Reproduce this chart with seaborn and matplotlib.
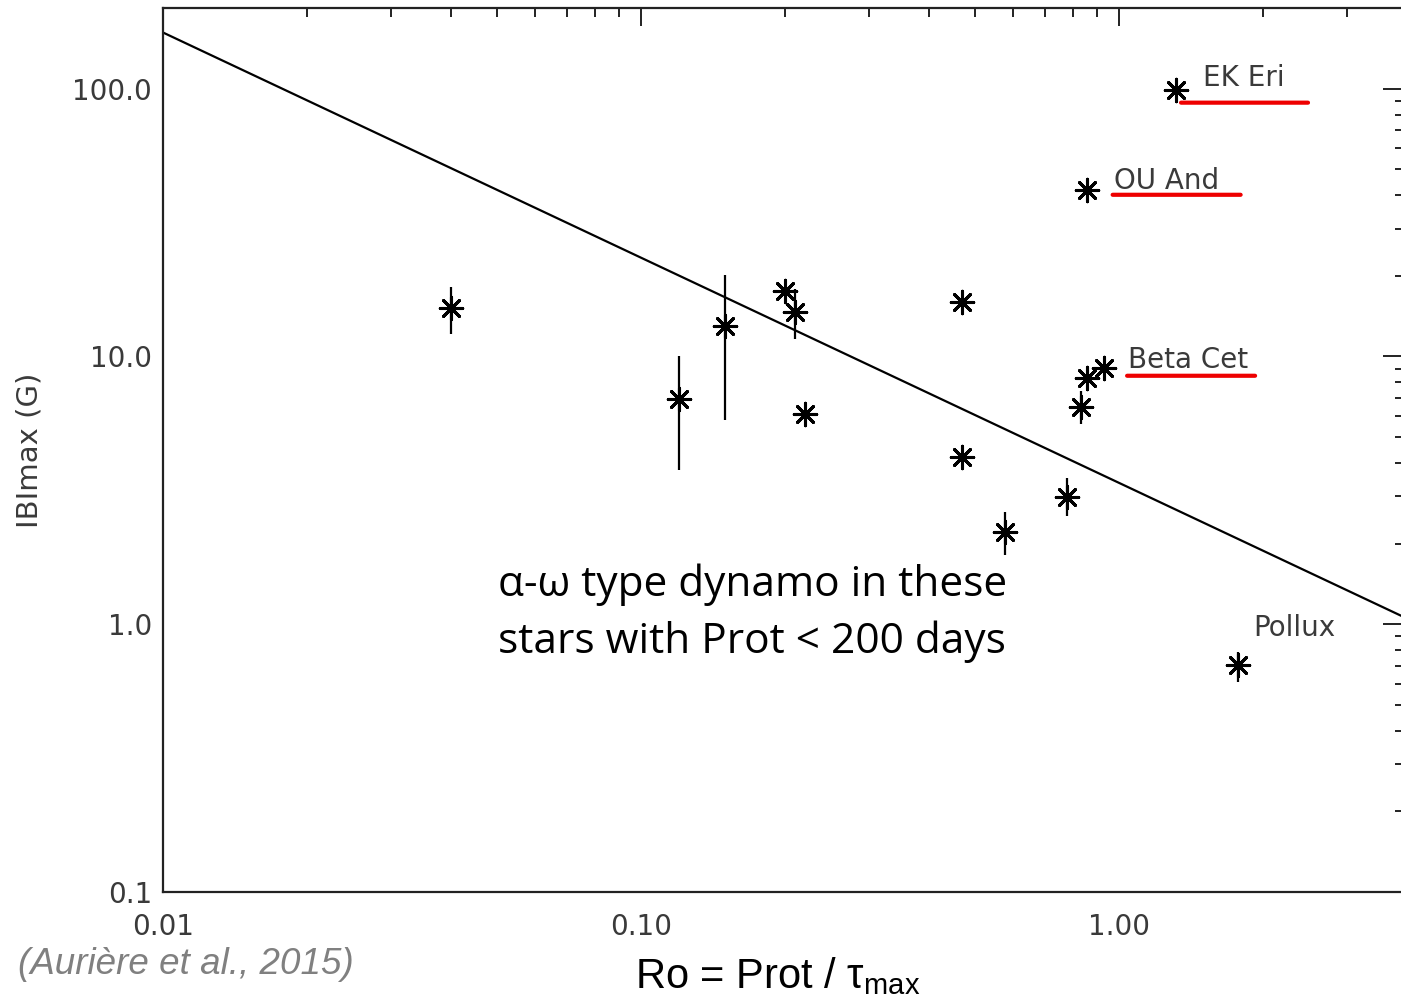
import matplotlib
matplotlib.use("Agg")
import matplotlib.pyplot as plt
import matplotlib.ticker as mticker
from matplotlib.transforms import offset_copy
import seaborn as sns
import pandas as pd

# Rossby number and max longitudinal field
ro = [0.040, 0.120, 0.150, 0.200, 0.210, 0.220, 0.468, 0.468,
      0.578, 0.779, 0.833, 0.858, 0.930, 0.855, 1.315, 1.772]
bmax = [15.1, 6.95, 13.0, 17.6, 14.7, 6.1, 15.9, 4.22,
        2.21, 2.99, 6.5, 8.3, 9.07, 41.9, 99.1, 0.705]

# vertical error bars (only the visible ones)
err_ro = [0.040, 0.120, 0.150, 0.210, 0.578, 0.779, 0.833, 1.772]
err_lo = [12.1, 3.78, 5.8, 11.6, 1.82, 2.53, 5.57, 0.61]
err_hi = [18.1, 10.0, 20.2, 17.8, 2.62, 3.53, 7.4, 0.79]

# power-law fit, drawn between the axis ends
fit_ro = [0.01, 4.0]
fit_b = [162.0, 1.05]

# labelled stars: name, ro, bmax, underlined?
star_names = ["EK Eri", "OU And", "Beta Cet", "Pollux"]
star_ro = [1.315, 0.855, 0.930, 1.772]
star_b = [99.1, 41.9, 9.07, 0.705]
star_red = [True, True, True, False]

xticks = [0.01, 0.1, 1.0]
xticklabels = ["0.01", "0.10", "1.00"]
yticks = [0.1, 1.0, 10.0, 100.0]
yticklabels = ["0.1", "1.0", "10.0", "100.0"]

df = pd.DataFrame({"ro": ro, "bmax": bmax})

sns.set_style("white")
plt.rcParams["font.family"] = ["DejaVu Sans"]
grey = "#3a3a3a"

fig = plt.figure(figsize=(14.01, 10.0), dpi=100)
ax = fig.add_axes([163 / 1401, 108 / 1000, (1407 - 163) / 1401, (892 - 8) / 1000])

ax.set_xscale("log")
ax.set_yscale("log")

ax.vlines(err_ro, err_lo, err_hi, color="black", lw=1.6)
sns.lineplot(x=fit_ro, y=fit_b, color="black", lw=1.6, ax=ax)
sns.scatterplot(data=df, x="ro", y="bmax", marker=(8, 2, 0), s=260,
                color="black", linewidth=2.2, ax=ax, zorder=3)

ax.set_xlim(0.01, 4.0)
ax.set_ylim(0.1, 200)

# star labels
for name, x, y, red in zip(star_names, star_ro, star_b, star_red):
    if name == "EK Eri":
        dx, dy, u0, u1, uy = 27, 12, 5, 132, -13
    elif name == "OU And":
        dx, dy, u0, u1, uy = 27, 9, 26, 154, -5
    elif name == "Beta Cet":
        dx, dy, u0, u1, uy = 24, 8, 23, 151, -8
    else:
        dx, dy, u0, u1, uy = 15, 37, 0, 0, 0
    ax.annotate(name, (x, y), xytext=(dx, dy), textcoords="offset pixels",
                ha="left", va="center", fontsize=20, color=grey)
    if red:
        ax.annotate("", xy=(x, y), xycoords=offset_copy(ax.transData, fig=fig, x=u0, y=uy, units="dots"),
                    xytext=(x, y), textcoords=offset_copy(ax.transData, fig=fig, x=u1, y=uy, units="dots"),
                    arrowprops=dict(arrowstyle="-", color="#ee0000", lw=3, shrinkA=0, shrinkB=0))

# ticks, IDL look
ax.xaxis.set_major_locator(mticker.FixedLocator(xticks))
ax.xaxis.set_major_formatter(mticker.FixedFormatter(xticklabels))
ax.yaxis.set_major_locator(mticker.FixedLocator(yticks))
ax.yaxis.set_major_formatter(mticker.FixedFormatter(yticklabels))
ax.xaxis.set_minor_locator(mticker.LogLocator(base=10, subs=range(2, 10), numticks=20))
ax.yaxis.set_minor_locator(mticker.LogLocator(base=10, subs=range(2, 10), numticks=20))
ax.xaxis.set_minor_formatter(mticker.NullFormatter())
ax.yaxis.set_minor_formatter(mticker.NullFormatter())

ax.tick_params(which="both", direction="in", top=True, right=True,
               width=1.4, color="#222222", labelcolor=grey, labelsize=20)
ax.tick_params(axis="x", which="major", length=13, pad=15)
ax.tick_params(axis="x", which="minor", length=6.5)
ax.tick_params(axis="y", which="major", length=17, pad=8)
ax.tick_params(axis="y", which="minor", length=8.5)
for sp in ax.spines.values():
    sp.set_linewidth(1.6)
    sp.set_color("#222222")

ax.set_xlabel("")
ax.set_ylabel("")
fig.text(30 / 1401, 1 - 450 / 1000, "IBImax (G)", rotation=90, ha="center", va="center",
         fontsize=21, color=grey)

fig.text(498 / 1401, 1 - 613 / 1000, "α-ω type dynamo in these\nstars with Prot < 200 days",
         ha="left", va="center", fontsize=30.5, family=["Open Sans", "DejaVu Sans"],
         color="black", linespacing=1.45)

fig.text(635 / 1401, 1 - 988 / 1000, "Ro = Prot / τ$_{\\mathregular{max}}$", ha="left", va="baseline",
         fontsize=30, family=["Liberation Sans", "DejaVu Sans"], color="black")

fig.text(18 / 1401, 1 - 965 / 1000, "(Aurière et al., 2015)", ha="left", va="center",
         fontsize=26.5, style="italic", family=["Liberation Sans", "DejaVu Sans"], color="#808080")

fig.savefig("out.png", dpi=100)
